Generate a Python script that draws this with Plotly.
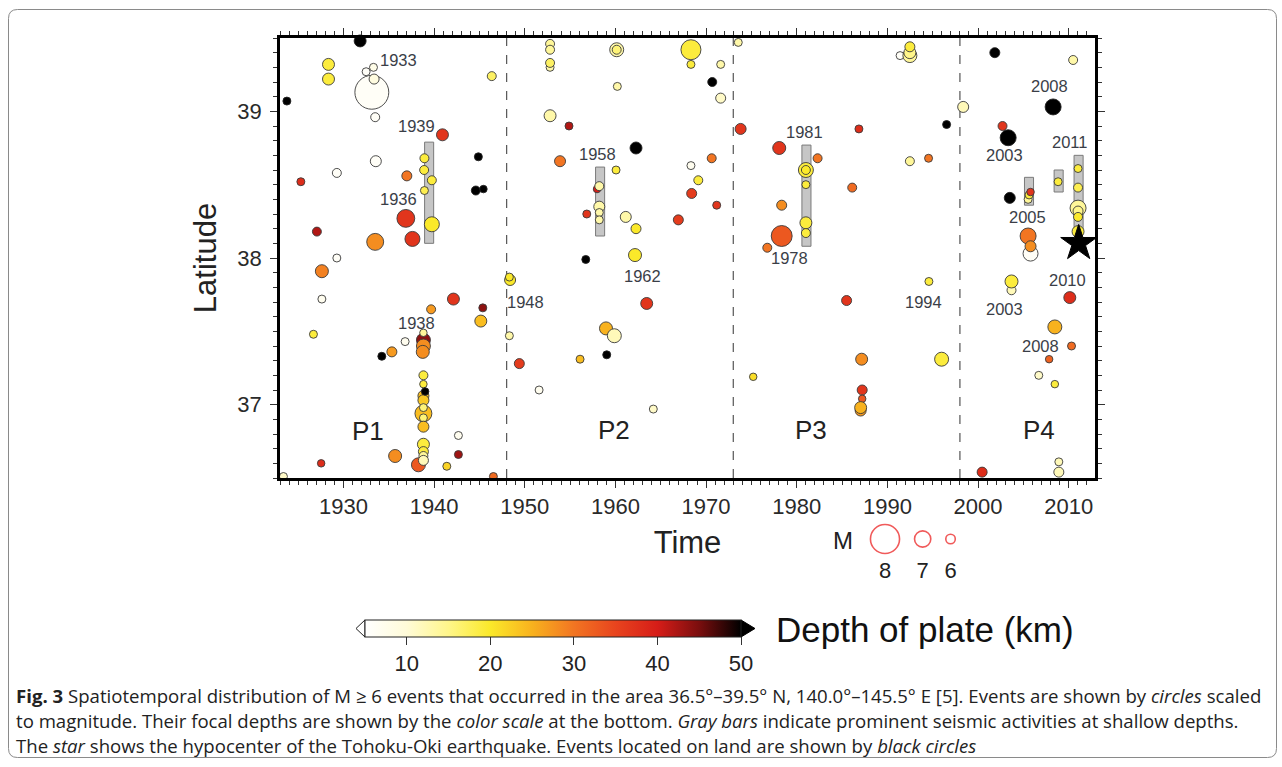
import numpy as np
import plotly.graph_objects as go

W, H = 1282, 767

# ---------------- data ----------------
# ocean events: year, latitude, magnitude, depth of plate (km)
ev_year = [1928.35, 1928.35, 1933.13, 1932.50, 1933.31, 1933.38, 1933.50, 1946.36, 1940.92, 1933.57,
           1929.27, 1925.30, 1938.93, 1938.90, 1939.75, 1938.93, 1936.99, 1936.88, 1937.61, 1939.75,
           1933.50, 1927.07, 1927.62, 1929.27, 1927.62, 1926.69, 1942.13, 1939.67, 1945.37, 1945.15,
           1936.80, 1935.34, 1938.82, 1938.82, 1938.75, 1938.82, 1938.82, 1938.82, 1938.82, 1938.82,
           1938.82, 1938.82, 1938.82, 1938.82, 1938.27, 1938.82, 1938.82, 1938.82, 1938.82, 1935.70,
           1927.54, 1942.68, 1942.68, 1941.40, 1923.38, 1946.54, 1948.38, 1948.30, 1948.30, 1952.79,
           1952.79, 1952.79, 1952.79, 1960.14, 1960.14, 1968.33, 1968.33, 1971.61, 1973.55, 1960.21,
           1971.61, 1952.79, 1954.88, 1973.81, 1953.89, 1960.07, 1968.33, 1970.62, 1969.14, 1968.41,
           1971.17, 1966.94, 1957.97, 1958.22, 1958.22, 1958.22, 1958.22, 1956.84, 1961.14, 1962.27,
           1962.16, 1963.45, 1958.96, 1959.88, 1956.10, 1949.40, 1951.58, 1964.18, 1991.40, 1992.48,
           1992.48, 1992.48, 2010.49, 1998.36, 2002.70, 1986.86, 1978.07, 1982.30, 1981.01, 1981.01,
           1981.01, 1978.34, 1981.01, 1981.01, 1978.34, 1976.75, 1986.12, 1992.48, 1994.54, 2005.52,
           2005.63, 2005.79, 2008.83, 2011.03, 2011.03, 2011.03, 2011.03, 2011.03, 2011.03, 2005.79,
           2005.52, 2005.79, 2003.69, 2003.69, 1994.58, 1985.50, 2010.12, 2008.47, 2010.31, 2007.84,
           2006.70, 2008.47, 1987.16, 1995.98, 1975.20, 1987.22, 1987.22, 1987.05, 1987.05, 2008.91,
           2008.91, 2000.45]
ev_lat = [39.32, 39.22, 39.13, 39.27, 39.30, 39.22, 38.96, 39.24, 38.84, 38.66,
          38.58, 38.52, 38.68, 38.60, 38.53, 38.46, 38.56, 38.27, 38.13, 38.23,
          38.11, 38.18, 37.91, 38.00, 37.72, 37.48, 37.72, 37.65, 37.66, 37.57,
          37.43, 37.36, 37.44, 37.40, 37.36, 37.49, 37.20, 37.14, 37.06, 37.03,
          36.94, 36.98, 36.91, 36.85, 36.59, 36.73, 36.68, 36.65, 36.62, 36.65,
          36.60, 36.79, 36.66, 36.58, 36.51, 36.51, 37.85, 37.87, 37.47, 39.46,
          39.42, 39.30, 39.33, 39.42, 39.42, 39.42, 39.32, 39.32, 39.47, 39.17,
          39.09, 38.97, 38.90, 38.88, 38.66, 38.60, 38.63, 38.68, 38.53, 38.44,
          38.36, 38.26, 38.47, 38.49, 38.35, 38.31, 38.26, 38.30, 38.28, 38.20,
          38.02, 37.69, 37.52, 37.47, 37.31, 37.28, 37.10, 36.97, 39.38, 39.38,
          39.40, 39.44, 39.35, 39.03, 38.90, 38.88, 38.75, 38.68, 38.60, 38.60,
          38.50, 38.36, 38.24, 38.17, 38.15, 38.07, 38.48, 38.66, 38.68, 38.40,
          38.43, 38.45, 38.52, 38.61, 38.48, 38.34, 38.32, 38.28, 38.18, 38.03,
          38.15, 38.08, 37.78, 37.84, 37.84, 37.71, 37.73, 37.53, 37.40, 37.31,
          37.20, 37.14, 37.31, 37.31, 37.19, 37.10, 37.04, 36.96, 36.98, 36.61,
          36.54, 36.54]
ev_mag = [6.73, 6.73, 8.35, 6.1, 6.1, 6.45, 6.28, 6.28, 6.73, 6.6,
          6.28, 6.1, 6.28, 6.28, 6.28, 6.1, 6.45, 7.35, 7.08, 7.08,
          7.27, 6.28, 6.86, 6.1, 6.1, 6.1, 6.73, 6.28, 6.1, 6.73,
          6.1, 6.45, 6.97, 6.97, 6.86, 6.0, 6.28, 6.0, 6.6, 6.6,
          7.27, 6.1, 6.1, 6.6, 6.97, 6.73, 6.45, 6.28, 6.45, 6.86,
          6.0, 6.1, 6.1, 6.1, 6.1, 6.1, 6.6, 6.1, 6.1, 6.28,
          6.28, 6.1, 6.28, 6.97, 6.28, 7.53, 6.1, 6.1, 6.1, 6.1,
          6.45, 6.73, 6.1, 6.6, 6.6, 6.1, 6.1, 6.28, 6.28, 6.45,
          6.1, 6.45, 6.0, 6.28, 6.6, 6.1, 6.1, 6.1, 6.6, 6.45,
          6.86, 6.73, 6.86, 6.97, 6.1, 6.45, 6.1, 6.1, 6.1, 6.97,
          6.73, 6.45, 6.28, 6.6, 6.28, 6.1, 6.86, 6.28, 7.08, 6.28,
          6.1, 6.45, 6.73, 6.28, 7.6, 6.28, 6.28, 6.28, 6.1, 6.1,
          6.1, 6.0, 6.1, 6.1, 6.28, 7.18, 6.45, 6.28, 6.73, 7.08,
          7.18, 6.6, 6.28, 6.86, 6.1, 6.45, 6.73, 6.97, 6.1, 6.0,
          6.1, 6.0, 6.73, 6.97, 6.0, 6.45, 6.0, 6.6, 6.73, 6.1,
          6.45, 6.45]
ev_depth = [19, 19, 6, 6, 8, 9, 6, 17, 37, 6,
            6, 38, 19, 19, 19, 18, 30, 37, 37, 20,
            28, 42, 29, 6, 7, 19, 37, 27, 44, 24,
            7, 27, 44, 28, 28, 14, 19, 19, 24, 23,
            24, 16, 16, 24, 33, 19, 19, 14, 12, 28,
            38, 7, 43, 22, 11, 31, 20, 20, 13, 14,
            14, 13, 17, 13, 16, 19, 19, 13, 13, 13,
            11, 13, 42, 37, 30, 19, 7, 30, 19, 36,
            37, 36, 40, 13, 13, 13, 13, 37, 13, 20,
            20, 37, 25, 12, 24, 36, 7, 11, 6, 14,
            15, 19, 13, 12, 37, 38, 37, 30, 19, 20,
            19, 28, 19, 19, 33, 30, 31, 14, 30, 14,
            19, 37, 19, 19, 18, 14, 15, 20, 19, 6,
            30, 28, 12, 19, 19, 37, 38, 25, 31, 32,
            11, 19, 28, 19, 21, 37, 33, 27, 25, 12,
            12, 38]

# events located on land (black circles)
land_year = [1931.84, 1923.76, 1944.88, 1944.60, 1945.44, 1934.23, 1939.01, 1970.68,
             1962.27, 1956.73, 1959.04, 2001.85, 2008.28, 1996.53, 2003.32, 2003.50]
land_lat = [39.48, 39.07, 38.69, 38.46, 38.47, 37.33, 37.09, 39.20,
            38.75, 37.99, 37.34, 39.40, 39.03, 38.91, 38.82, 38.41]
land_mag = [6.73, 6.1, 6.1, 6.28, 6.0, 6.1, 6.0, 6.28,
            6.73, 6.1, 6.1, 6.45, 7.18, 6.1, 7.18, 6.6]

# gray bars: prominent shallow activity
bar_year = [1939.45, 1958.31, 1981.07, 2005.62, 2008.89, 2011.09]
bar_lat_lo = [38.10, 38.15, 38.08, 38.36, 38.45, 38.19]
bar_lat_hi = [38.79, 38.62, 38.77, 38.55, 38.60, 38.70]

# Tohoku-Oki hypocenter
star_year = [2011.1]
star_lat = [38.10]

# period boundaries and labels
period_bounds = [1948, 1973, 1998]
period_names = ["P1", "P2", "P3", "P4"]
period_year = [1932.7, 1959.8, 1981.6, 2006.7]
period_lat = [36.82, 36.83, 36.83, 36.83]

# event year labels
label_text = ["1933", "1939", "1936", "1938", "1948", "1958", "1962", "1981", "1978",
              "1994", "2008", "2003", "2011", "2005", "2003", "2010", "2008"]
label_year = [1936.06, 1938.09, 1936.06, 1938.09, 1950.03, 1958.05, 1963.01, 1980.90, 1979.17,
              1993.95, 2007.92, 2002.95, 2010.10, 2005.41, 2002.95, 2009.87, 2006.89]
label_lat = [39.35, 38.90, 38.40, 37.56, 37.70, 38.71, 37.88, 38.86, 38.00,
             37.70, 39.17, 38.70, 38.79, 38.28, 37.65, 37.85, 37.40]

legend_mag = [8, 7, 6]
x_ticks = [1930, 1940, 1950, 1960, 1970, 1980, 1990, 2000, 2010]
y_ticks = [37, 38, 39]
depth_ticks = [10, 20, 30, 40, 50]
depth_min, depth_max = 5, 50


def msize(m):
    return 7.5 * 1.9 ** (np.asarray(m, dtype=float) - 6)


# ---------------- helpers for pixel layout ----------------
def px(x):
    return x / W


def py(y):
    return 1 - y / H


colorscale = [
    [0.000, "#ffffff"],
    [0.111, "#fffbd8"],
    [0.222, "#fff68a"],
    [0.333, "#fbe92a"],
    [0.444, "#f8b21e"],
    [0.556, "#f27522"],
    [0.667, "#e8441e"],
    [0.778, "#d61d18"],
    [0.889, "#7a0e0e"],
    [1.000, "#000000"],
]

fig = go.Figure()

# gray bars
fig.add_trace(go.Bar(
    x=bar_year, y=np.array(bar_lat_hi) - np.array(bar_lat_lo), base=bar_lat_lo,
    width=1.0, marker=dict(color="#c6c6c6", line=dict(color="#7a7a7a", width=1)),
    hoverinfo="skip", showlegend=False))

# ocean events coloured by depth
cb_left = 365
cb_len = 376
fig.add_trace(go.Scatter(
    x=ev_year, y=ev_lat, mode="markers", cliponaxis=False, showlegend=False,
    marker=dict(size=msize(ev_mag), color=ev_depth, colorscale=colorscale,
                cmin=depth_min, cmax=depth_max, opacity=1,
                line=dict(color="#3a3a3a", width=0.9),
                showscale=True,
                colorbar=dict(orientation="h", xref="paper", yref="paper",
                              x=px(cb_left), xanchor="left", y=py(620), yanchor="top",
                              len=cb_len, lenmode="pixels", thickness=17,
                              xpad=0, ypad=0, outlinewidth=1, outlinecolor="#222",
                              tickvals=depth_ticks, ticks="outside", ticklen=8,
                              tickcolor="#333", tickwidth=1.2,
                              tickfont=dict(family="Liberation Sans", size=22, color="#222"))),
    hoverinfo="skip"))

# land events
fig.add_trace(go.Scatter(
    x=land_year, y=land_lat, mode="markers", cliponaxis=False, showlegend=False,
    marker=dict(size=msize(land_mag), color="#000000", opacity=1,
                line=dict(color="#222", width=0.9)),
    hoverinfo="skip"))

# star
fig.add_trace(go.Scatter(
    x=star_year, y=star_lat, mode="markers", cliponaxis=False, showlegend=False,
    marker=dict(symbol="star", size=27, color="#000000", opacity=1,
                line=dict(color="#000", width=1)),
    hoverinfo="skip"))

# magnitude legend on its own small axes (pixel units)
leg_sizes = msize(legend_mag)
leg_x = [885.0]
for i in range(1, len(legend_mag)):
    leg_x.append(leg_x[-1] + (leg_sizes[i - 1] + leg_sizes[i]) / 2 + 17)
fig.add_trace(go.Scatter(
    x=leg_x, y=[539] * len(legend_mag), xaxis="x2", yaxis="y2", mode="markers",
    cliponaxis=False, showlegend=False,
    marker=dict(size=leg_sizes + 2, color="rgba(0,0,0,0)", opacity=1,
                line=dict(color="#f05a5a", width=1.6)),
    hoverinfo="skip"))
fig.add_trace(go.Scatter(
    x=leg_x, y=[572] * len(legend_mag), xaxis="x2", yaxis="y2", mode="text",
    text=[str(m) for m in legend_mag], cliponaxis=False, showlegend=False,
    textfont=dict(family="Liberation Sans", size=22, color="#222"),
    hoverinfo="skip"))

# ---------------- layout ----------------
shapes = []
for b in period_bounds:
    shapes.append(dict(type="line", xref="x", yref="y domain", x0=b, x1=b, y0=0, y1=1,
                       line=dict(color="#555", width=1.2, dash="dash"), layer="below"))


def path(points):
    return "M " + " L ".join(f"{px(a):.5f},{py(b):.5f}" for a, b in points) + " Z"


# colorbar end triangles
cb_right = cb_left + cb_len
shapes.append(dict(type="path", xref="paper", yref="paper",
                   path=path([(cb_left, 620), (cb_left - 9, 628.5), (cb_left, 637)]),
                   fillcolor="#ffffff", line=dict(color="#222", width=1)))
shapes.append(dict(type="path", xref="paper", yref="paper",
                   path=path([(cb_right, 620), (cb_right + 14, 628.5), (cb_right, 637)]),
                   fillcolor="#000000", line=dict(color="#000", width=1)))

# outer rounded frame
r = 9
x0, y0, x1, y1 = 8.5, 9.5, 1276.5, 757.5
frame = (f"M {px(x0 + r)},{py(y0)} L {px(x1 - r)},{py(y0)} "
         f"Q {px(x1)},{py(y0)} {px(x1)},{py(y0 + r)} L {px(x1)},{py(y1 - r)} "
         f"Q {px(x1)},{py(y1)} {px(x1 - r)},{py(y1)} L {px(x0 + r)},{py(y1)} "
         f"Q {px(x0)},{py(y1)} {px(x0)},{py(y1 - r)} L {px(x0)},{py(y0 + r)} "
         f"Q {px(x0)},{py(y0)} {px(x0 + r)},{py(y0)} Z")
shapes.append(dict(type="path", xref="paper", yref="paper", path=frame,
                   line=dict(color="#8a8a8a", width=1)))

annotations = []
for t, xv, yv in zip(label_text, label_year, label_lat):
    annotations.append(dict(x=xv, y=yv, xref="x", yref="y", text=t, showarrow=False,
                            xanchor="center", yanchor="middle",
                            font=dict(family="Liberation Sans", size=16.5, color="#3a3e47")))
for t, xv, yv in zip(period_names, period_year, period_lat):
    annotations.append(dict(x=xv, y=yv, xref="x", yref="y", text=t, showarrow=False,
                            xanchor="center", yanchor="middle",
                            font=dict(family="Liberation Sans", size=26, color="#222")))

annotations.append(dict(x=px(843), y=py(540), xref="paper", yref="paper", text="M",
                        xanchor="center", yanchor="middle", showarrow=False,
                        font=dict(family="Liberation Sans", size=24, color="#222")))
annotations.append(dict(x=px(774), y=py(629), xref="paper", yref="paper", xanchor="left",
                        yanchor="middle", text="Depth of plate (km)", showarrow=False,
                        font=dict(family="Liberation Sans", size=35, color="#111")))

caption = [
    "<b>Fig. 3</b> Spatiotemporal distribution of M ≥ 6 events that occurred in the area "
    "36.5°–39.5° N, 140.0°–145.5° E [5]. Events are shown by <i>circles</i> scaled",
    "to magnitude. Their focal depths are shown by the <i>color scale</i> at the bottom. "
    "<i>Gray bars</i> indicate prominent seismic activities at shallow depths.",
    "The <i>star</i> shows the hypocenter of the Tohoku-Oki earthquake. Events located on land "
    "are shown by <i>black circles</i>",
]
for i, line in enumerate(caption):
    annotations.append(dict(x=px(14), y=py(695 + 25 * i), xref="paper", yref="paper",
                            xanchor="left", yanchor="middle", text=line, showarrow=False,
                            font=dict(family="Open Sans", size=18.6, color="#222")))

axis_common = dict(showline=True, linecolor="#000", linewidth=2.5, mirror="allticks",
                   ticks="outside", ticklen=7, tickwidth=1.4, tickcolor="#333",
                   showgrid=False, zeroline=False,
                   tickfont=dict(family="Liberation Sans", size=22, color="#2a2a2a"))

fig.update_layout(
    width=W, height=H, margin=dict(l=0, r=0, t=0, b=0, autoexpand=False),
    paper_bgcolor="#ffffff", plot_bgcolor="#ffffff",
    font=dict(family="Liberation Sans"),
    showlegend=False, barmode="overlay",
    xaxis=dict(domain=[px(280), px(1095)], range=[1923.0, 2012.9], tickvals=x_ticks,
               minor=dict(dtick=1, tick0=1930, ticklen=4, tickwidth=1, tickcolor="#333",
                          ticks="outside"),
               title=dict(text="Time", font=dict(family="Liberation Sans", size=31, color="#222"),
                          standoff=14),
               **axis_common),
    yaxis=dict(domain=[py(478), py(38)], range=[36.5, 39.5], tickvals=y_ticks,
               minor=dict(dtick=0.1, tick0=36.5, ticklen=4, tickwidth=1, tickcolor="#333",
                          ticks="outside"),
               title=dict(text="Latitude", font=dict(family="Liberation Sans", size=31, color="#222"),
                          standoff=12),
               ticklabelstandoff=4,
               **axis_common),
    xaxis2=dict(domain=[px(860), px(975)], range=[860, 975], visible=False, anchor="y2"),
    yaxis2=dict(domain=[py(590), py(520)], range=[590, 520], visible=False, anchor="x2"),
    shapes=shapes, annotations=annotations,
)

fig.write_html("out.html", config={"displayModeBar": False},
               post_script="document.body.style.margin='0';document.body.style.overflow='hidden';")
